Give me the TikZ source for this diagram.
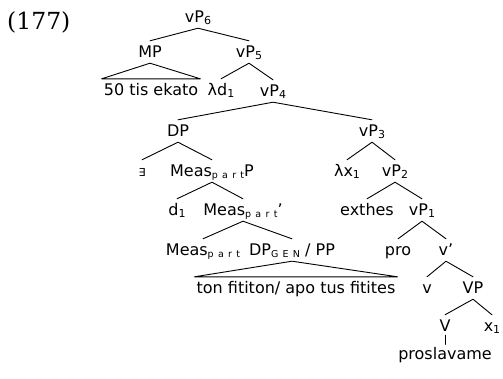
\documentclass[tikz,border=0pt]{standalone}
\usepackage{fontspec}
\setmainfont{DejaVu Sans}[Ligatures=ResetAll]
\newfontfamily\exfont{DejaVu Serif}
\newcommand{\sbn}[1]{\raisebox{-2.5pt}{\fontsize{11}{11}\selectfont #1}}
\newcommand{\sbc}[1]{\raisebox{-2.5pt}{\fontsize{9.5}{9.5}\selectfont\addfontfeature{LetterSpace=45}#1}}
\tikzset{
  lab/.style={anchor=base, text height=12pt, text depth=2pt, inner ysep=4pt, inner xsep=2pt, font=\fontsize{16}{19}\selectfont},
  br/.style={line width=0.9pt, line cap=round, line join=round}
}
\begin{document}
\begin{tikzpicture}[x=1pt,y=-1pt]
\useasboundingbox (0,0) rectangle (503,378);
\node[anchor=base west, inner sep=0pt, font=\exfont\fontsize{23.5}{26}\selectfont] (num) at (7,29) {(177)};
\node[lab] (vP6) at (198,22) {vP\sbn{6}};
\node[lab] (MP) at (150,57) {MP};
\node[lab] (vP5) at (249,57) {vP\sbn{5}};
\node[lab] (ek) at (151,95) {50 tis ekato};
\node[lab] (ld) at (221,95) {λd\sbn{1}};
\node[lab] (vP4) at (273,96) {vP\sbn{4}};
\node[lab] (DP) at (178,136) {DP};
\node[lab] (vP3) at (372,136) {vP\sbn{3}};
\node[lab] (ex) at (142,176) {\fontsize{11}{12}\selectfont ∃};
\node[lab] (MPP) at (212,176) {Meas\sbc{part}P};
\node[lab] (lx) at (347,176) {λx\sbn{1}};
\node[lab] (vP2) at (395,176) {vP\sbn{2}};
\node[lab] (d1) at (177,215) {d\sbn{1}};
\node[lab] (Mb) at (243,215) {Meas\sbc{part}'};
\node[lab] (exth) at (367,215) {exthes};
\node[lab] (vP1) at (422,215) {vP\sbn{1}};
\node[lab] (Mh) at (203,255) {Meas\sbc{part}};
\node[lab] (DPg) at (292,255) {DP\sbc{GEN} / PP};
\node[lab] (pro) at (398,255) {pro};
\node[lab] (vb) at (446,255) {v'};
\node[lab] (ton) at (296,293) {ton fititon/ apo tus fitites};
\node[lab] (v) at (427,293) {v};
\node[lab] (VP) at (473,293) {VP};
\node[lab] (V) at (445,331) {V};
\node[lab] (x1) at (492,331) {x\sbn{1}};
\node[lab] (pr) at (445,359) {proslavame};
\draw[br] (MP.north) -- (vP6.south) -- (vP5.north);
\draw[br] (ek.north west) -- (MP.south) -- (ek.north east) -- cycle;
\draw[br] (ld.north) -- (vP5.south) -- (vP4.north);
\draw[br] (DP.north) -- (vP4.south) -- (vP3.north);
\draw[br] (ex.north) -- (DP.south) -- (MPP.north);
\draw[br] (d1.north) -- (MPP.south) -- (Mb.north);
\draw[br] (Mh.north) -- (Mb.south) -- (DPg.north);
\draw[br] (ton.north west) -- (DPg.south) -- (ton.north east) -- cycle;
\draw[br] (lx.north) -- (vP3.south) -- (vP2.north);
\draw[br] (exth.north) -- (vP2.south) -- (vP1.north);
\draw[br] (pro.north) -- (vP1.south) -- (vb.north);
\draw[br] (v.north) -- (vb.south) -- (VP.north);
\draw[br] (V.north) -- (VP.south) -- (x1.north);
\draw[br] ([yshift=2pt]V.south) -- ([yshift=-1.5pt]pr.north);
\end{tikzpicture}
\end{document}
